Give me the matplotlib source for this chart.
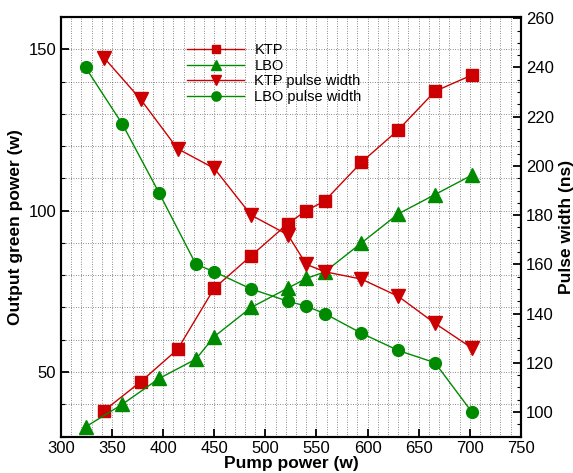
import matplotlib
matplotlib.use("Agg")
import matplotlib.pyplot as plt
from matplotlib.ticker import MultipleLocator

plt.rcParams['font.family'] = ['Liberation Sans', 'DejaVu Sans']

# Data
ktp_x = [342, 378, 414, 450, 486, 522, 540, 558, 594, 630, 666, 702]
ktp_power = [38, 47, 57, 76, 86, 96, 100, 103, 115, 125, 137, 142]
lbo_x = [324, 360, 396, 432, 450, 486, 522, 540, 558, 594, 630, 666, 702]
lbo_power = [33, 40, 48, 54, 61, 70, 76, 79, 81, 90, 99, 105, 111]
ktp_pw = [244, 227, 207, 199, 180, 172, 160, 157, 154, 147, 136, 126]
lbo_pw = [240, 217, 189, 160, 157, 150, 145, 143, 140, 132, 125, 120, 100]

red = '#cc0000'
green = '#008a00'

fig = plt.figure(figsize=(5.73, 4.73), dpi=100)
ax = fig.add_axes([0.1065, 0.077, 0.8025, 0.887])
ax2 = ax.twinx()

l1, = ax.plot(ktp_x, ktp_power, color=red, marker='s', ms=8, lw=1.0, label='KTP', zorder=3)
l2, = ax.plot(lbo_x, lbo_power, color=green, marker='^', ms=9.5, lw=1.0, label='LBO', zorder=3)
l3, = ax2.plot(ktp_x, ktp_pw, color=red, marker='v', ms=9.5, lw=1.0, label='KTP pulse width', zorder=3)
l4, = ax2.plot(lbo_x, lbo_pw, color=green, marker='o', ms=8.5, lw=1.0, label='LBO pulse width', zorder=3)

ax.set_xlim(300, 750)
ax.set_ylim(30, 160)
ax2.set_ylim(90, 260.5)

ax.xaxis.set_major_locator(MultipleLocator(50))
ax.xaxis.set_minor_locator(MultipleLocator(10))
ax.yaxis.set_major_locator(MultipleLocator(50))
ax.yaxis.set_minor_locator(MultipleLocator(10))
ax2.yaxis.set_major_locator(MultipleLocator(20))
ax2.yaxis.set_minor_locator(MultipleLocator(5))

ax.grid(which='both', color='#222222', linestyle=(0, (1, 2.5)), linewidth=0.5)
ax.tick_params(which='major', direction='in', length=6, width=1.3, labelsize=12, top=False)
ax.tick_params(which='minor', direction='in', length=0, top=False)
ax.tick_params(axis='y', which='minor', length=3, width=0.8)
ax2.tick_params(which='major', direction='in', length=6, width=1.3, labelsize=12)
ax2.tick_params(which='minor', direction='in', length=3, width=0.8)

for a in (ax, ax2):
    for s in a.spines.values():
        s.set_linewidth(1.5)

ax.set_xlabel('Pump power (w)', fontsize=12.5, fontweight='bold', labelpad=0)
ax.set_ylabel('Output green power (w)', fontsize=12.5, fontweight='bold', labelpad=4)
ax2.set_ylabel('Pulse width (ns)', fontsize=12.5, fontweight='bold', labelpad=4)

leg = ax.legend(handles=[l1, l2, l3, l4], loc='upper left', bbox_to_anchor=(0.262, 0.952),
                frameon=False, fontsize=10.5, handlelength=3.9, labelspacing=0.12,
                handletextpad=0.7, borderaxespad=0, markerscale=0.78)

fig.savefig('out.png', dpi=100)
